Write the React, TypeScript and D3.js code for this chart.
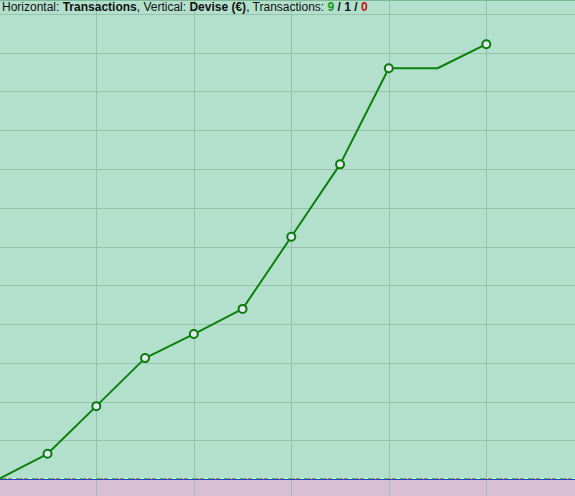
import React, { useEffect, useRef } from "react";
import * as d3 from "d3";

// transaction index (half steps between vertical grid lines)
const steps = [0, 1, 2, 3, 4, 5, 6, 7, 8, 9, 10];
// cumulative amount in €
const amounts = [0, 6.5, 18.8, 31.2, 37.4, 43.9, 62.5, 81.2, 106, 106, 112.2];
// which points carry a marker
const markers = [false, true, true, true, true, true, true, true, true, false, true];
const yTicks = [0, 10, 20, 30, 40, 50, 60, 70, 80, 90, 100, 110, 120];
const xTicks = [0, 2, 4, 6, 8, 10, 12];

const W = 575;
const H = 496;

export default function App() {
	const svgRef = useRef<SVGSVGElement | null>(null);

	useEffect(() => {
		const svg = d3.select(svgRef.current);
		svg.selectAll("*").remove();

		const x = d3.scaleLinear().domain([0, 10]).range([-1.2, 486.3]);
		const y = d3.scaleLinear().domain([0, 120]).range([479, 14]);

		svg.append("rect").attr("width", W).attr("height", H).attr("fill", "#b3e0cd");
		svg.append("rect")
			.attr("y", 480)
			.attr("width", W)
			.attr("height", H - 480)
			.attr("fill", "#d9bfd3");

		// grid
		svg.append("g")
			.selectAll("line")
			.data(yTicks.slice(1))
			.enter()
			.append("line")
			.attr("x1", 0)
			.attr("x2", W)
			.attr("y1", (d) => Math.round(y(d)) + 0.5)
			.attr("y2", (d) => Math.round(y(d)) + 0.5)
			.attr("stroke", "#97c3ac")
			.attr("stroke-width", 1);

		svg.append("g")
			.selectAll("line")
			.data(xTicks.slice(1))
			.enter()
			.append("line")
			.attr("x1", (d) => Math.round(x(d)) + 0.5)
			.attr("x2", (d) => Math.round(x(d)) + 0.5)
			.attr("y1", 0)
			.attr("y2", H)
			.attr("stroke", "#97c3ac")
			.attr("stroke-width", 1);

		svg.append("line")
			.attr("x1", 0)
			.attr("x2", W)
			.attr("y1", 0.5)
			.attr("y2", 0.5)
			.attr("stroke", "#7db896");

		// baseline
		svg.append("line")
			.attr("x1", 0)
			.attr("x2", W)
			.attr("y1", 479.5)
			.attr("y2", 479.5)
			.attr("stroke", "#2a3fd0");
		svg.append("line")
			.attr("x1", 0)
			.attr("x2", W)
			.attr("y1", 478.5)
			.attr("y2", 478.5)
			.attr("stroke", "#e8f0f0");
		svg.append("line")
			.attr("x1", 0)
			.attr("x2", W)
			.attr("y1", 478.5)
			.attr("y2", 478.5)
			.attr("stroke", "#5cc04a")
			.attr("stroke-dasharray", "4,4");
		svg.append("line")
			.attr("x1", 4)
			.attr("x2", W)
			.attr("y1", 478.5)
			.attr("y2", 478.5)
			.attr("stroke", "#d88070")
			.attr("stroke-dasharray", "3,13");

		const pts = steps.map((s, i) => ({ s, v: amounts[i], m: markers[i] }));

		const line = d3
			.line<{ s: number; v: number }>()
			.x((d) => x(d.s))
			.y((d) => y(d.v));

		svg.append("path")
			.datum(pts)
			.attr("d", line)
			.attr("fill", "none")
			.attr("stroke", "#0b800b")
			.attr("stroke-width", 2)
			.attr("stroke-linejoin", "round");

		svg.append("g")
			.selectAll("circle")
			.data(pts.filter((d) => d.m))
			.enter()
			.append("circle")
			.attr("cx", (d) => x(d.s))
			.attr("cy", (d) => y(d.v))
			.attr("r", 4)
			.attr("fill", "#e2e8f4")
			.attr("stroke", "#0b7a0b")
			.attr("stroke-width", 2);

		// header
		const t = svg
			.append("text")
			.attr("x", 2)
			.attr("y", 11)
			.attr("font-family", "'Liberation Sans', Arial, sans-serif")
			.attr("font-size", "12px")
			.attr("fill", "#111");
		t.append("tspan").text("Horizontal: ");
		t.append("tspan").attr("font-weight", "bold").text("Transactions");
		t.append("tspan").text(", Vertical: ");
		t.append("tspan").attr("font-weight", "bold").text("Devise (€)");
		t.append("tspan").text(", Transactions: ");
		t.append("tspan").attr("font-weight", "bold").attr("fill", "#139a13").text("9");
		t.append("tspan").attr("font-weight", "bold").text(" / 1 / ");
		t.append("tspan").attr("font-weight", "bold").attr("fill", "#c01010").text("0");
	}, []);

	return (
		<svg
			ref={svgRef}
			width={W}
			height={H}
			style={{ position: "absolute", left: 0, top: 0 }}
		></svg>
	);
}
